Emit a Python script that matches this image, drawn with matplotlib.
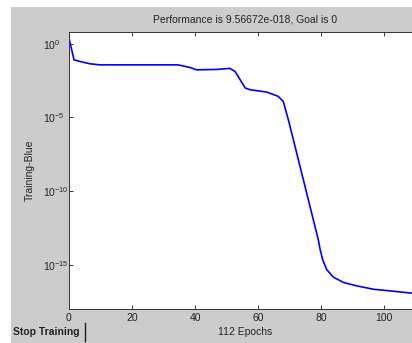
import numpy as np
import matplotlib
matplotlib.use('Agg')
import matplotlib.pyplot as plt
from matplotlib.patches import Rectangle
from matplotlib.lines import Line2D

plt.rcParams['font.family'] = ['Liberation Sans', 'DejaVu Sans']
plt.rcParams['mathtext.default'] = 'regular'

# Training performance (epoch, log10 of error)
epochs = [0, 0.85, 1.6, 3.5, 6.7, 9.8, 20, 34.6, 38.4, 40.5, 46.9, 51, 52.7,
          54.3, 55.9, 57.5, 62.8, 66.4, 68, 69.6, 71.2, 79.1, 79.7, 80.5,
          81.8, 83.9, 87.1, 91.3, 96.6, 101.9, 108.9, 112]
log_perf = [0.39, -0.41, -1.09, -1.2, -1.36, -1.43, -1.43, -1.43, -1.61, -1.77,
            -1.74, -1.67, -1.88, -2.44, -3.0, -3.12, -3.28, -3.57, -3.92, -5.16,
            -6.52, -13.3, -13.98, -14.66, -15.34, -15.84, -16.2, -16.43, -16.66,
            -16.77, -16.93, -17.02]
perf = 10.0 ** np.array(log_perf)

x_ticks = [0, 20, 40, 60, 80, 100]
y_ticks = [1e-15, 1e-10, 1e-5, 1e0]

W, H = 412, 343
fig = plt.figure(figsize=(W / 100, H / 100), dpi=100)
fig.patch.set_facecolor('white')

# gray window background
fig.patches.append(Rectangle((11 / W, 0), 1 - 11 / W, (H - 7) / H,
                             transform=fig.transFigure, facecolor='#cccccc',
                             edgecolor='none', zorder=-10))

ax = fig.add_axes([69 / W, (H - 309) / H, 353 / W, 277 / H])
ax.set_facecolor('white')
ax.semilogy(epochs, perf, color='#0000ff', lw=1.2)
ax.set_xlim(0, 112)
ax.set_ylim(1e-18, 10 ** 0.8)
ax.set_xticks(x_ticks)
ax.set_yticks(y_ticks)
ax.minorticks_off()
ax.tick_params(direction='in', length=3, width=0.7, labelsize=7.5,
               top=True, right=True, pad=3, color='#333333',
               labelcolor='#222222')
# MATLAB-style: "10" base at a fixed spot, exponent hanging to the right
ax.tick_params(axis='y', pad=18.5)
for lab in ax.get_yticklabels():
    lab.set_ha('left')
for s in ax.spines.values():
    s.set_linewidth(0.7)
    s.set_color('#333333')

ax.set_title('Performance is 9.56672e-018, Goal is 0', fontsize=7.5, pad=7,
             color='#222222')
ax.set_xlabel('112 Epochs', fontsize=7.5, labelpad=3, color='#222222')
ax.set_ylabel('Training-Blue', fontsize=7.5, color='#222222')
ax.yaxis.set_label_coords(-0.097, 0.5)

# Stop Training button
fig.text(13 / W, (H - 332) / H, 'Stop Training', fontsize=7.5, fontweight='bold',
         ha='left', va='center', color='#222222')
fig.lines.append(Line2D([85 / W, 85 / W], [(H - 341) / H, (H - 323) / H],
                        transform=fig.transFigure, color='#222222', lw=1))

plt.savefig('out.png', dpi=100, facecolor=fig.get_facecolor())
